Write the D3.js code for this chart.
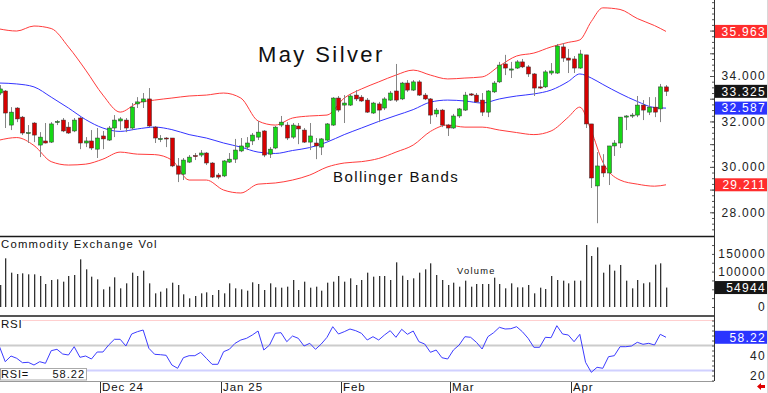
<!DOCTYPE html>
<html>
<head>
<meta charset="utf-8">
<script src="https://cdn.jsdelivr.net/npm/d3@7"></script>
<style>
  html, body { margin: 0; padding: 0; background: #fff; }
  svg { display: block; font-family: "Liberation Sans", Arial, sans-serif; }
</style>
</head>
<body>
<div id="chart"></div>
<script>
// daily May silver bars, Nov 5 2024 .. Apr 24 2025
const open = [33.25,33.34,31.84,32.59,32.19,31.47,31.93,30.96,31.14,31.09,
  31.95,32.06,31.75,31.58,32.15,31.05,31.14,30.78,31.36,31.18,
  31.71,32.02,32.06,31.71,32.77,32.86,32.99,31.75,31.20,31.27,
  31.27,30.04,29.68,30.21,30.50,30.52,30.61,30.17,29.64,29.60,
  30.21,30.34,30.70,30.87,31.14,31.31,31.58,30.56,30.83,31.84,
  31.84,31.31,31.80,31.62,31.09,31.05,30.87,31.18,31.84,33.03,
  32.72,32.72,33.16,33.07,32.94,32.37,32.77,32.59,32.94,33.34,
  32.99,33.69,33.38,33.74,33.16,32.99,32.33,32.50,31.84,31.71,
  32.24,32.50,33.21,33.16,32.94,32.41,33.30,33.74,34.53,34.26,
  34.35,34.62,34.40,34.09,33.52,33.52,34.13,34.13,35.28,34.79,
  34.75,34.35,34.93,31.89,29.16,30.04,29.73,30.92,31.05,32.19,
  32.24,32.28,32.72,32.41,32.63,32.55,33.52];
const high = [33.60,33.38,32.63,32.63,32.24,31.84,31.97,31.53,31.93,31.97,
  32.06,32.15,31.97,32.15,32.19,31.31,31.62,31.71,31.58,31.80,
  32.28,32.19,32.15,32.81,33.07,33.25,33.47,31.80,31.40,31.31,
  31.27,30.39,30.39,30.52,30.61,30.74,30.65,30.21,29.73,30.30,
  30.61,31.23,31.27,31.31,31.49,32.02,31.62,30.87,31.80,32.24,
  31.97,31.93,31.93,31.71,31.93,31.27,31.27,31.93,33.07,33.12,
  33.16,33.21,33.38,33.16,33.03,32.86,32.86,33.07,33.34,34.53,
  33.74,33.82,33.82,33.82,33.25,33.03,32.59,32.55,31.89,32.33,
  32.59,33.30,33.25,33.25,33.25,33.38,33.78,34.62,34.93,34.62,
  34.70,34.75,34.48,34.13,33.82,34.26,34.57,35.41,35.45,35.19,
  34.88,35.15,34.93,31.89,30.65,30.56,30.92,31.18,32.19,32.28,
  32.37,33.12,32.94,33.07,33.07,33.65,33.60];
const low = [33.16,31.71,31.62,31.97,31.40,31.05,31.09,30.43,31.03,31.05,
  31.84,31.53,31.45,31.53,30.78,30.87,30.74,30.39,30.78,31.14,
  31.31,31.62,31.53,31.62,32.59,32.59,31.75,31.05,31.09,30.87,
  29.99,29.33,29.42,30.17,30.30,30.43,30.08,29.51,29.46,29.55,
  30.17,30.17,30.65,30.74,30.96,31.18,30.43,30.39,30.78,31.75,
  31.18,31.23,31.00,31.05,30.74,30.34,30.52,31.14,31.80,32.41,
  31.93,32.68,32.90,32.86,32.37,32.33,31.97,32.50,32.90,32.86,
  32.94,33.30,33.34,33.12,32.94,31.89,32.19,31.75,31.36,31.67,
  32.15,32.46,33.12,32.81,32.24,32.19,33.25,33.69,34.04,33.91,
  34.31,34.35,33.96,33.12,33.43,33.47,34.04,34.09,34.62,34.13,
  34.13,34.31,31.71,29.07,27.52,29.55,29.20,30.48,30.83,31.62,
  32.15,32.19,32.06,32.28,32.19,31.97,33.12];
const close = [33.43,32.37,32.41,32.11,31.49,31.51,31.40,31.31,31.05,31.89,
  32.00,31.58,31.49,32.06,31.05,31.14,30.83,31.27,31.23,31.71,
  32.06,32.11,31.71,32.63,32.86,32.99,31.80,31.27,31.25,31.23,
  30.04,29.68,30.30,30.43,30.45,30.61,30.17,29.55,29.55,30.26,
  30.34,30.74,30.92,31.05,31.40,31.53,30.52,30.78,31.75,31.97,
  31.27,31.84,31.67,31.09,31.36,30.92,31.23,31.89,33.03,32.50,
  32.81,33.12,32.99,32.90,32.41,32.81,32.50,32.99,33.25,32.94,
  33.69,33.38,33.74,33.16,32.99,32.28,32.50,31.84,31.71,32.24,
  32.55,33.16,33.16,32.86,32.41,33.34,33.69,34.48,34.35,34.31,
  34.62,34.40,34.09,33.47,33.47,34.18,34.22,35.32,34.79,34.70,
  34.35,34.97,31.89,29.51,30.04,29.73,30.92,31.05,32.19,32.24,
  32.28,32.72,32.50,32.63,32.41,33.52,33.325];
const volume = [62150,137490,96990,93225,95110,92285,92285,87575,64975,76275,
  78160,71565,87575,90400,134660,106410,85690,78160,49910,57440,
  83810,52735,66860,96990,87575,102640,66860,38605,43320,52735,
  68740,62150,35780,24480,31075,38605,41430,33900,48025,38605,
  66860,52735,49910,46140,69680,64975,48025,66860,55560,54615,
  57440,76275,48025,71565,54615,57440,46140,68740,71565,87575,
  71565,80990,62150,76275,96990,85690,87575,87575,76275,126190,
  88520,76275,80990,96990,106410,123360,90400,76275,62150,68740,
  57440,74390,57440,64975,64975,64975,82870,64975,52735,66860,
  55560,55560,62150,38605,54615,50850,87575,76275,74390,66860,
  74390,74390,175150,144075,168560,96990,119590,102640,118650,74390,
  52735,76275,66860,69680,119590,123360,54944];
const rsi = [48.8,33.8,39.5,37.2,32.8,33.2,30.5,33.8,32.2,44.8,
  46.2,41.5,40.5,48.8,38.2,39.5,36.5,43.5,43.5,50.5,
  56.2,56.2,49.5,61.5,63.8,65.5,47.2,41.2,40.8,40.2,
  30.5,27.2,37.8,39.8,39.8,43.2,37.2,31.2,31.2,43.8,
  46.2,52.2,55.5,57.2,60.5,64.5,45.5,50.5,62.2,62.8,
  53.8,59.5,57.2,49.5,52.2,46.2,51.5,58.2,68.8,61.5,
  63.8,66.5,64.8,62.2,55.5,58.8,55.5,60.5,64.8,58.2,
  66.2,61.2,64.5,53.8,51.5,43.2,45.5,37.8,36.5,45.5,
  50.5,58.8,58.2,53.2,46.5,58.8,62.8,68.2,66.5,66.8,
  68.8,63.8,57.2,48.2,48.2,58.2,57.8,69.8,61.5,60.5,
  53.8,61.2,33.2,23.2,28.2,27.2,38.8,39.8,48.8,48.8,
  49.5,53.2,51.2,52.2,50.5,61.2,58.22];

// Bollinger bands read at these bars
const bandIdx = [0,3,6,9,12,15,18,21,24,27,30,33,36,39,42,45,48,51,54,57,
  60,63,66,69,72,75,78,81,84,87,90,93,96,99,101,103,105,108,111,114,116];
const upper = [36.07,35.98,36.20,36.09,35.28,34.26,33.16,32.41,32.81,32.94,
  33.03,33.12,33.16,33.25,33.03,32.02,31.84,32.15,32.24,32.28,
  33.03,33.43,33.74,34.04,34.26,34.04,33.87,33.91,33.96,34.44,
  34.88,35.01,35.28,35.48,35.59,36.40,37.00,36.93,36.53,36.22,35.963];
const middle = [33.69,33.65,33.52,33.07,32.59,32.08,31.71,31.56,31.67,31.75,
  31.64,31.42,31.27,31.05,30.87,30.65,30.59,30.72,30.85,31.09,
  31.42,31.71,32.00,32.26,32.52,32.85,32.94,32.90,32.81,32.99,
  33.12,33.21,33.38,33.76,34.09,33.91,33.63,33.23,32.88,32.61,32.587];
const lower = [31.18,31.29,30.94,30.23,30.08,30.12,30.34,30.65,30.56,30.54,
  30.30,29.42,29.42,28.98,28.85,29.24,29.29,29.42,29.64,29.99,
  30.17,30.23,30.37,30.65,30.96,31.56,31.84,31.75,31.75,31.62,
  31.51,31.42,31.58,32.19,32.63,31.58,30.21,29.42,29.24,29.15,29.211];

const monthIdx = [18, 39, 60, 79, 100];
const monthLabels = ["Dec 24", "Jan 25", "Feb", "Mar", "Apr"];
const priceTicks = [28, 30, 32, 34];
const volTicks = [0, 100000, 150000];
const rsiTicks = [20, 40];
const rsiLevels = [75, 50, 25];

const width = 768, height = 393;
const axisX = 714;
const N = close.length;

const svg = d3.select("#chart").append("svg")
  .attr("width", width).attr("height", height);
svg.append("rect").attr("width", width).attr("height", height).attr("fill", "#fff");

const x = d3.scaleLinear().domain([0, N - 1]).range([-0.5, 666]);
const yP = d3.scaleLinear().domain([28, 34]).range([212.3, 76]);
const yV = d3.scaleLinear().domain([0, 150000]).range([307, 253.9]);
const yR = d3.scaleLinear().domain([20, 75]).range([375.5, 320.5]);

const defs = svg.append("defs");
defs.append("clipPath").attr("id", "clipMain")
  .append("rect").attr("x", 0).attr("y", 0).attr("width", axisX).attr("height", 235);

// ---- main panel ----
const main = svg.append("g").attr("clip-path", "url(#clipMain)");

const band = (vals) => d3.line()
  .x((d, k) => x(bandIdx[k]))
  .y(d => yP(d))
  .curve(d3.curveMonotoneX)(vals);

main.append("path").attr("d", band(upper)).attr("fill", "none").attr("stroke", "#ff3c3c").attr("stroke-width", 1);
main.append("path").attr("d", band(lower)).attr("fill", "none").attr("stroke", "#ff3c3c").attr("stroke-width", 1);
main.append("path").attr("d", band(middle)).attr("fill", "none").attr("stroke", "#3434ff").attr("stroke-width", 1);

const idx = d3.range(N);
main.selectAll(".wick").data(idx).enter().append("line")
  .attr("x1", i => Math.round(x(i)) + 0.5).attr("x2", i => Math.round(x(i)) + 0.5)
  .attr("y1", i => yP(high[i])).attr("y2", i => yP(low[i]))
  .attr("stroke", "#858585").attr("stroke-width", 1);

main.selectAll(".body").data(idx).enter().append("rect")
  .attr("x", i => Math.round(x(i)) - 1.5)
  .attr("width", 4)
  .attr("y", i => yP(Math.max(open[i], close[i])))
  .attr("height", i => Math.max(1, Math.abs(yP(open[i]) - yP(close[i]))))
  .attr("fill", i => close[i] >= open[i] ? "#16d816" : "#d60000")
  .attr("stroke", "#303030").attr("stroke-width", 0.5);

svg.append("text").attr("x", 258).attr("y", 62)
  .style("font-size", "22px").style("letter-spacing", "2.4px").attr("fill", "#111")
  .text("May Silver");
svg.append("text").attr("x", 333).attr("y", 182)
  .style("font-size", "15px").style("letter-spacing", "1.4px").attr("fill", "#111")
  .text("Bollinger Bands");

// ---- volume panel ----
svg.append("line").attr("x1", 0).attr("x2", axisX).attr("y1", 236.5).attr("y2", 236.5)
  .attr("stroke", "#1a1a1a").attr("stroke-width", 1.3);
svg.selectAll(".vol").data(idx).enter().append("rect")
  .attr("x", i => Math.round(x(i)))
  .attr("width", 1.3)
  .attr("y", i => yV(volume[i]))
  .attr("height", i => yV(0) - yV(volume[i]))
  .attr("fill", "#333");
svg.append("text").attr("x", 1).attr("y", 247.5)
  .style("font-size", "11.3px").style("letter-spacing", "1.25px").attr("fill", "#111")
  .text("Commodity Exchange Vol");
svg.append("text").attr("x", 457).attr("y", 273.5)
  .style("font-size", "9.3px").style("letter-spacing", "1.3px").attr("fill", "#111")
  .text("Volume");

// ---- RSI panel ----
svg.append("line").attr("x1", 0).attr("x2", axisX).attr("y1", 316).attr("y2", 316)
  .attr("stroke", "#555").attr("stroke-width", 2);
const levelStyle = {75: ["#ffcfcf", 1, 22], 50: ["#cccccc", 2, 0], 25: ["#d0d0ff", 2, 86]};
rsiLevels.forEach(v => {
  svg.append("line").attr("x1", levelStyle[v][2]).attr("x2", axisX)
    .attr("y1", yR(v)).attr("y2", yR(v))
    .attr("stroke", levelStyle[v][0]).attr("stroke-width", levelStyle[v][1]);
});
svg.append("path")
  .attr("d", d3.line().x((d, i) => x(i)).y(d => yR(d))(rsi))
  .attr("fill", "none").attr("stroke", "#3c3cff").attr("stroke-width", 1);
svg.append("text").attr("x", 1).attr("y", 327.5)
  .style("font-size", "11.5px").style("letter-spacing", "0.8px").attr("fill", "#111")
  .text("RSI");
svg.append("rect").attr("x", 0.5).attr("y", 368.5).attr("width", 86).attr("height", 11.5)
  .attr("fill", "#fff").attr("stroke", "#aaa");
svg.append("text").attr("x", 1).attr("y", 378)
  .style("font-size", "11px").style("letter-spacing", "0.8px").attr("fill", "#111")
  .text("RSI=");
svg.append("text").attr("x", 85).attr("y", 378).attr("text-anchor", "end")
  .style("font-size", "11px").style("letter-spacing", "1px").attr("fill", "#111")
  .text(d3.format(".2f")(rsi[N - 1]));

// ---- bottom date axis ----
svg.append("line").attr("x1", 0).attr("x2", axisX).attr("y1", 381.5).attr("y2", 381.5)
  .attr("stroke", "#999").attr("stroke-width", 1);
monthIdx.forEach((m, k) => {
  const mx = Math.round(x(m)) - 2.5;
  svg.append("line").attr("x1", mx).attr("x2", mx).attr("y1", 382).attr("y2", 393)
    .attr("stroke", "#333").attr("stroke-width", 1);
  svg.append("text").attr("x", mx + 1.5).attr("y", 390.5)
    .style("font-size", "11.5px").style("letter-spacing", "0.9px").attr("fill", "#111")
    .text(monthLabels[k]);
});

// ---- right axis ----
svg.append("line").attr("x1", axisX + 0.5).attr("x2", axisX + 0.5).attr("y1", 0).attr("y2", 381)
  .attr("stroke", "#333");
svg.append("line").attr("x1", 767.5).attr("x2", 767.5).attr("y1", 0).attr("y2", height)
  .attr("stroke", "#d8d8d8");

function minorTicks(scale, values, size) {
  svg.append("g").attr("transform", `translate(${axisX},0)`)
    .call(d3.axisLeft(scale).tickValues(values).tickSize(size).tickFormat(""))
    .call(g => g.select(".domain").remove())
    .call(g => g.selectAll("line").attr("stroke", "#555"));
}
minorTicks(yP, d3.range(27.25, 37.5, 0.25), 2);
minorTicks(yP, d3.range(28, 37, 1), 4);
minorTicks(yV, d3.range(0, 200000, 25000), 2);
minorTicks(yR, d3.range(15, 80, 5), 2);

function labelAxis(scale, values, fmt) {
  svg.append("g").attr("transform", "translate(769,0)")
    .call(d3.axisLeft(scale).tickValues(values).tickSize(0).tickPadding(3).tickFormat(fmt))
    .call(g => g.select(".domain").remove())
    .call(g => g.selectAll("text")
      .style("font-family", "'Liberation Sans', Arial, sans-serif")
      .style("font-size", "12px").style("letter-spacing", "1.3px").attr("fill", "#222"));
}
labelAxis(yP, priceTicks, d3.format(".3f"));
labelAxis(yV, volTicks, d3.format("d"));
labelAxis(yR, rsiTicks, d3.format("d"));

// last-value flags
const flags = [
  [yP(upper[upper.length - 1]), d3.format(".3f")(upper[upper.length - 1]), "#ff2d2d"],
  [yP(close[N - 1]), d3.format(".3f")(close[N - 1]), "#161616"],
  [yP(middle[middle.length - 1]), d3.format(".3f")(middle[middle.length - 1]), "#2a34ff"],
  [yP(lower[lower.length - 1]), d3.format(".3f")(lower[lower.length - 1]), "#ff2d2d"],
  [yV(volume[N - 1]), d3.format("d")(volume[N - 1]), "#161616"],
  [yR(rsi[N - 1]), d3.format(".2f")(rsi[N - 1]), "#2a34ff"]
];
flags.forEach(f => {
  svg.append("rect").attr("x", axisX + 1).attr("y", f[0] - 6.5).attr("width", 52).attr("height", 13)
    .attr("fill", f[2]);
  svg.append("text").attr("x", 766).attr("y", f[0] + 4.3).attr("text-anchor", "end")
    .style("font-size", "12px").style("letter-spacing", "1.3px").attr("fill", "#fff")
    .text(f[1]);
});

// small red arrow, bottom right
svg.append("path")
  .attr("d", "M757,386.5 L761,383 L761,385 L765,385 L765,388 L761,388 L761,390 Z")
  .attr("fill", "#e00000");
</script>
</body>
</html>
